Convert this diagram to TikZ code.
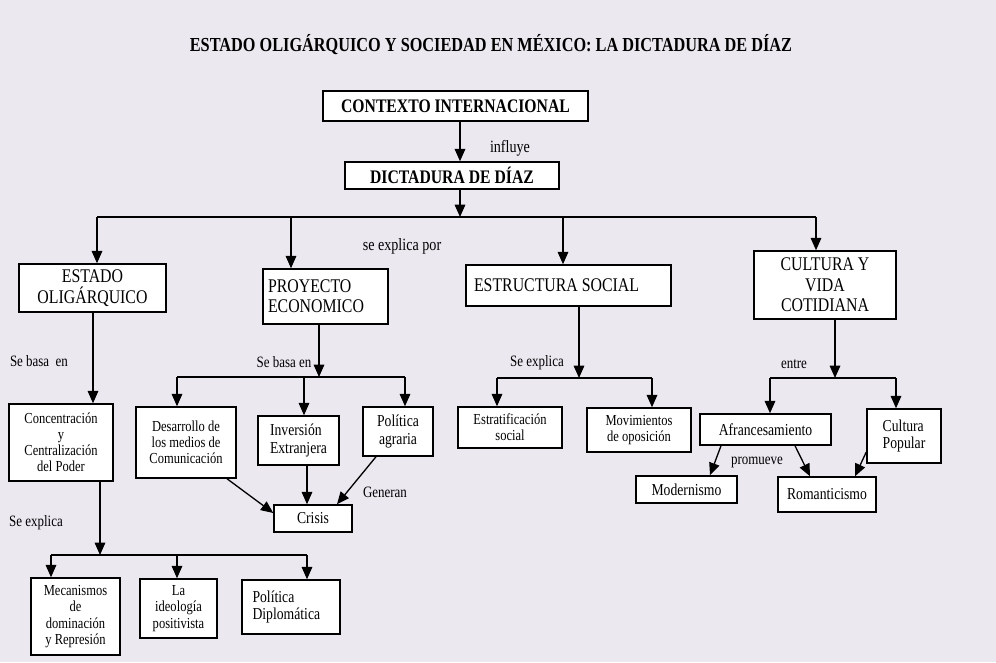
\documentclass[tikz,border=0pt]{standalone}
\usepackage{fontspec}
\setmainfont{Liberation Serif}[FakeStretch=0.82]
\usetikzlibrary{arrows.meta}
\definecolor{paper}{RGB}{235,232,240}
\tikzset{
  box/.style={draw, fill=white, line width=0.85pt, align=center, inner sep=1pt},
  hd/.style={font=\fontsize{10.9}{12}\selectfont\bfseries},
  capt/.style={font=\fontsize{11}{11.6}\selectfont},
  sm/.style={font=\fontsize{8.7}{9.2}\selectfont},
  md/.style={font=\fontsize{9.5}{10.2}\selectfont},
  lbl/.style={font=\fontsize{9}{10}\selectfont},
  lblbig/.style={font=\fontsize{9.8}{11}\selectfont},
}
\begin{document}
\begin{tikzpicture}[x=0.02cm, y=-0.02cm, >={Triangle[length=7pt,width=6pt]}, line width=0.75pt]
\fill[paper] (0,0) rectangle (996,662);
\node[font=\fontsize{11.3}{13}\selectfont\bfseries] (title) at (491,45) {ESTADO OLIGÁRQUICO Y SOCIEDAD EN MÉXICO: LA DICTADURA DE DÍAZ};

\node[box,hd,minimum width=5.3cm,minimum height=0.6cm] (ctx) at (455.5,106) {CONTEXTO INTERNACIONAL};
\node[box,hd,minimum width=4.28cm,minimum height=0.54cm] (dic) at (452,175.5) {DICTADURA DE DÍAZ};

\node[box,capt,minimum width=2.94cm,minimum height=0.96cm] (est) at (92.5,288) {ESTADO\\OLIGÁRQUICO};
\node[box,capt,align=flush left,inner xsep=2.8pt,text width=2.3cm,minimum height=1.1cm] (pro) at (325.5,296.5) {PROYECTO\\ECONOMICO};
\node[box,capt,align=flush left,inner xsep=4.5pt,text width=3.78cm,minimum height=0.82cm] (soc) at (568.5,285.5) {ESTRUCTURA SOCIAL};
\node[box,capt,minimum width=2.84cm,minimum height=1.36cm] (cul) at (825,285) {CULTURA Y\\VIDA\\COTIDIANA};

\node[box,sm,minimum width=2.08cm,minimum height=1.54cm] (con) at (61,442.5) {Concentración\\y\\Centralización\\del Poder};
\node[box,sm,minimum width=1.78cm,minimum height=1.54cm] (mec) at (75.5,616.5) {Mecanismos\\de\\dominación\\y Represión};
\node[box,sm,minimum width=1.54cm,minimum height=1.18cm] (ide) at (178.5,608.5) {La\\ideología\\positivista};
\node[box,md,align=flush left,inner xsep=6pt,text width=1.54cm,minimum height=1.08cm] (dip) at (291,607) {Política\\Diplomática};

\node[box,sm,minimum width=2cm,minimum height=1.42cm] (des) at (186,442.5) {Desarrollo de\\los medios de\\Comunicación};
\node[box,md,align=left,minimum width=1.62cm,minimum height=0.98cm] (inv) at (298.5,440.5) {Inversión\\Extranjera};
\node[box,md,minimum width=1.4cm,minimum height=0.98cm] (agr) at (398,431.5) {Política\\agraria};
\node[box,md,minimum width=1.56cm,minimum height=0.54cm] (cri) at (313,518.5) {Crisis};

\node[box,sm,minimum width=2.08cm,minimum height=0.82cm] (estr) at (510,427.5) {Estratificación\\social};
\node[box,sm,minimum width=2.08cm,minimum height=0.88cm] (mov) at (639,430) {Movimientos\\de oposición};

\node[box,md,minimum width=2.62cm,minimum height=0.62cm] (afr) at (765.5,429.5) {Afrancesamiento};
\node[box,md,align=left,minimum width=1.48cm,minimum height=1.08cm] (pop) at (904,436) {Cultura\\Popular};
\node[box,md,minimum width=2.02cm,minimum height=0.54cm] (mod) at (686.5,489.5) {Modernismo};
\node[box,md,minimum width=1.96cm,minimum height=0.7cm] (rom) at (827,494.5) {Romanticismo};

% top
\draw[->] (ctx.south -| 460,0) -- (dic.north -| 460,0);
\node[lblbig] at (510,148) {influye};
\coordinate (b0) at (460,217);
\draw[->] (dic.south -| b0) -- (b0);
\draw (97,217) -- (816,217);
\foreach \n/\x in {est/97,pro/291,soc/563,cul/816}
{
    \draw[->] (\x,217) -- (\n.north -| \x,0);
}
\node[lblbig] at (402,246) {se explica por};

% estado
\draw[->] (est.south -| 93,0) -- (con.north -| 93,0);
\node[lbl] at (39,361) {Se basa\ \ en};
\coordinate (b1) at (100,555);
\draw[->] (con.south -| b1) -- (b1);
\draw (51,555) -- (307,555);
\foreach \n/\x in {mec/51,ide/177,dip/307}
{
    \draw[->] (\x,555) -- (\n.north -| \x,0);
}
\node[lbl] at (36,523) {Se explica};

% proyecto
\coordinate (b2) at (319,377);
\draw[->] (pro.south -| b2) -- (b2);
\draw (177,377) -- (405,377);
\foreach \n/\x in {des/177,inv/304,agr/405}
{
    \draw[->] (\x,377) -- (\n.north -| \x,0);
}
\node[lbl] at (284,362) {Se basa en};
\draw[->] (des.south -| 227,0) -- (cri.west |- 0,513);
\draw[->] (inv.south -| 307,0) -- (cri.north -| 307,0);
\draw[->] (agr.south -| 376,0) -- (cri.north -| 337,0);
\node[lbl] at (385,492) {Generan};

% estructura
\coordinate (b3) at (579,378);
\draw[->] (soc.south -| b3) -- (b3);
\draw (497,378) -- (652,378);
\foreach \n/\x in {estr/497,mov/652}
{
    \draw[->] (\x,378) -- (\n.north -| \x,0);
}
\node[lbl] at (537,363) {Se explica};

% cultura
\coordinate (b4) at (835,378);
\draw[->] (cul.south -| b4) -- (b4);
\draw (770,378) -- (896,378);
\foreach \n/\x in {afr/770,pop/896}
{
    \draw[->] (\x,378) -- (\n.north -| \x,0);
}
\node[lbl] at (794,364) {entre};
\draw[->] (afr.south -| 721,0) -- (mod.north -| 710,0);
\draw[->] (afr.south -| 795,0) -- (rom.north -| 810,0);
\draw[->] (pop.west |- 0,452) -- (rom.north -| 855,0);
\node[lbl] at (757,462) {promueve};

\end{tikzpicture}
\end{document}
